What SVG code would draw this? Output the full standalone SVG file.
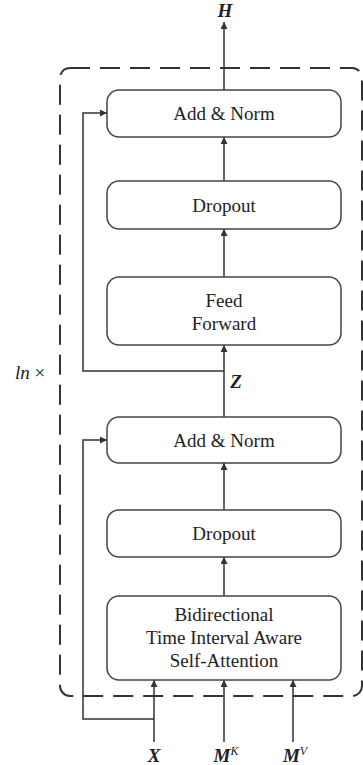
<svg xmlns="http://www.w3.org/2000/svg" width="363" height="765" viewBox="0 0 363 765">
<defs>
<marker id="ah" viewBox="0 0 10 10" refX="10" refY="5" markerWidth="7" markerHeight="7" markerUnits="userSpaceOnUse" orient="auto">
<path d="M0,0 L10,5 L0,10 z" fill="#333"/>
</marker>
<style>
.box{fill:#fff;stroke:#444;stroke-width:1.5}
.t{font-family:"Liberation Serif",serif;font-size:19px;fill:#222;text-anchor:middle}
.v{font-family:"Liberation Serif",serif;font-size:19px;font-weight:bold;font-style:italic;fill:#222;text-anchor:middle}
.c{fill:none;stroke:#333;stroke-width:1.5}
</style>
</defs>
<rect width="363" height="765" fill="#fff"/>
<g id="frame">
<rect x="60" y="68" width="302" height="628" rx="10" ry="10" fill="none" stroke="#333" stroke-width="2" stroke-dasharray="20,10"/>
<text x="15" y="379" font-family="'Liberation Serif',serif" font-size="19" fill="#222"><tspan font-style="italic">ln</tspan> ×</text>
</g>
<g id="connectors">
<line class="c" x1="224" y1="90" x2="224" y2="22" marker-end="url(#ah)"/>
<line class="c" x1="224" y1="181" x2="224" y2="137" marker-end="url(#ah)"/>
<line class="c" x1="224" y1="277" x2="224" y2="229" marker-end="url(#ah)"/>
<line class="c" x1="224" y1="417" x2="224" y2="345" marker-end="url(#ah)"/>
<line class="c" x1="224" y1="510" x2="224" y2="463" marker-end="url(#ah)"/>
<line class="c" x1="224" y1="596" x2="224" y2="557" marker-end="url(#ah)"/>
<line class="c" x1="154" y1="742" x2="154" y2="680" marker-end="url(#ah)"/>
<line class="c" x1="224" y1="742" x2="224" y2="680" marker-end="url(#ah)"/>
<line class="c" x1="293" y1="742" x2="293" y2="680" marker-end="url(#ah)"/>
<path class="c" d="M224,371 H83 V113 H107" marker-end="url(#ah)"/>
<path class="c" d="M154,719 H83 V440 H107" marker-end="url(#ah)"/>
</g>
<g id="addnorm2">
<rect class="box" x="107" y="90" width="234" height="47" rx="12"/>
<text class="t" x="224" y="120">Add &amp; Norm</text>
</g>
<g id="dropout2">
<rect class="box" x="107" y="181" width="234" height="48" rx="12"/>
<text class="t" x="224" y="212">Dropout</text>
</g>
<g id="feedforward">
<rect class="box" x="107" y="277" width="234" height="68" rx="12"/>
<text class="t" x="224" y="307">Feed</text>
<text class="t" x="224" y="330">Forward</text>
</g>
<g id="addnorm1">
<rect class="box" x="107" y="417" width="234" height="46" rx="12"/>
<text class="t" x="224" y="447">Add &amp; Norm</text>
</g>
<g id="dropout1">
<rect class="box" x="107" y="510" width="234" height="47" rx="12"/>
<text class="t" x="224" y="540">Dropout</text>
</g>
<g id="attention">
<rect class="box" x="107" y="596" width="234" height="84" rx="12"/>
<text class="t" x="224" y="621">Bidirectional</text>
<text class="t" x="224" y="644">Time Interval Aware</text>
<text class="t" x="224" y="667">Self-Attention</text>
</g>
<g id="labels">
<text class="v" x="225" y="17">H</text>
<text class="v" x="236" y="388">Z</text>
<text class="v" x="154" y="762">X</text>
<text class="v" x="226" y="762">M<tspan font-size="12" dy="-7" font-weight="normal">K</tspan></text>
<text class="v" x="295" y="762">M<tspan font-size="12" dy="-7" font-weight="normal">V</tspan></text>
</g>
</svg>
